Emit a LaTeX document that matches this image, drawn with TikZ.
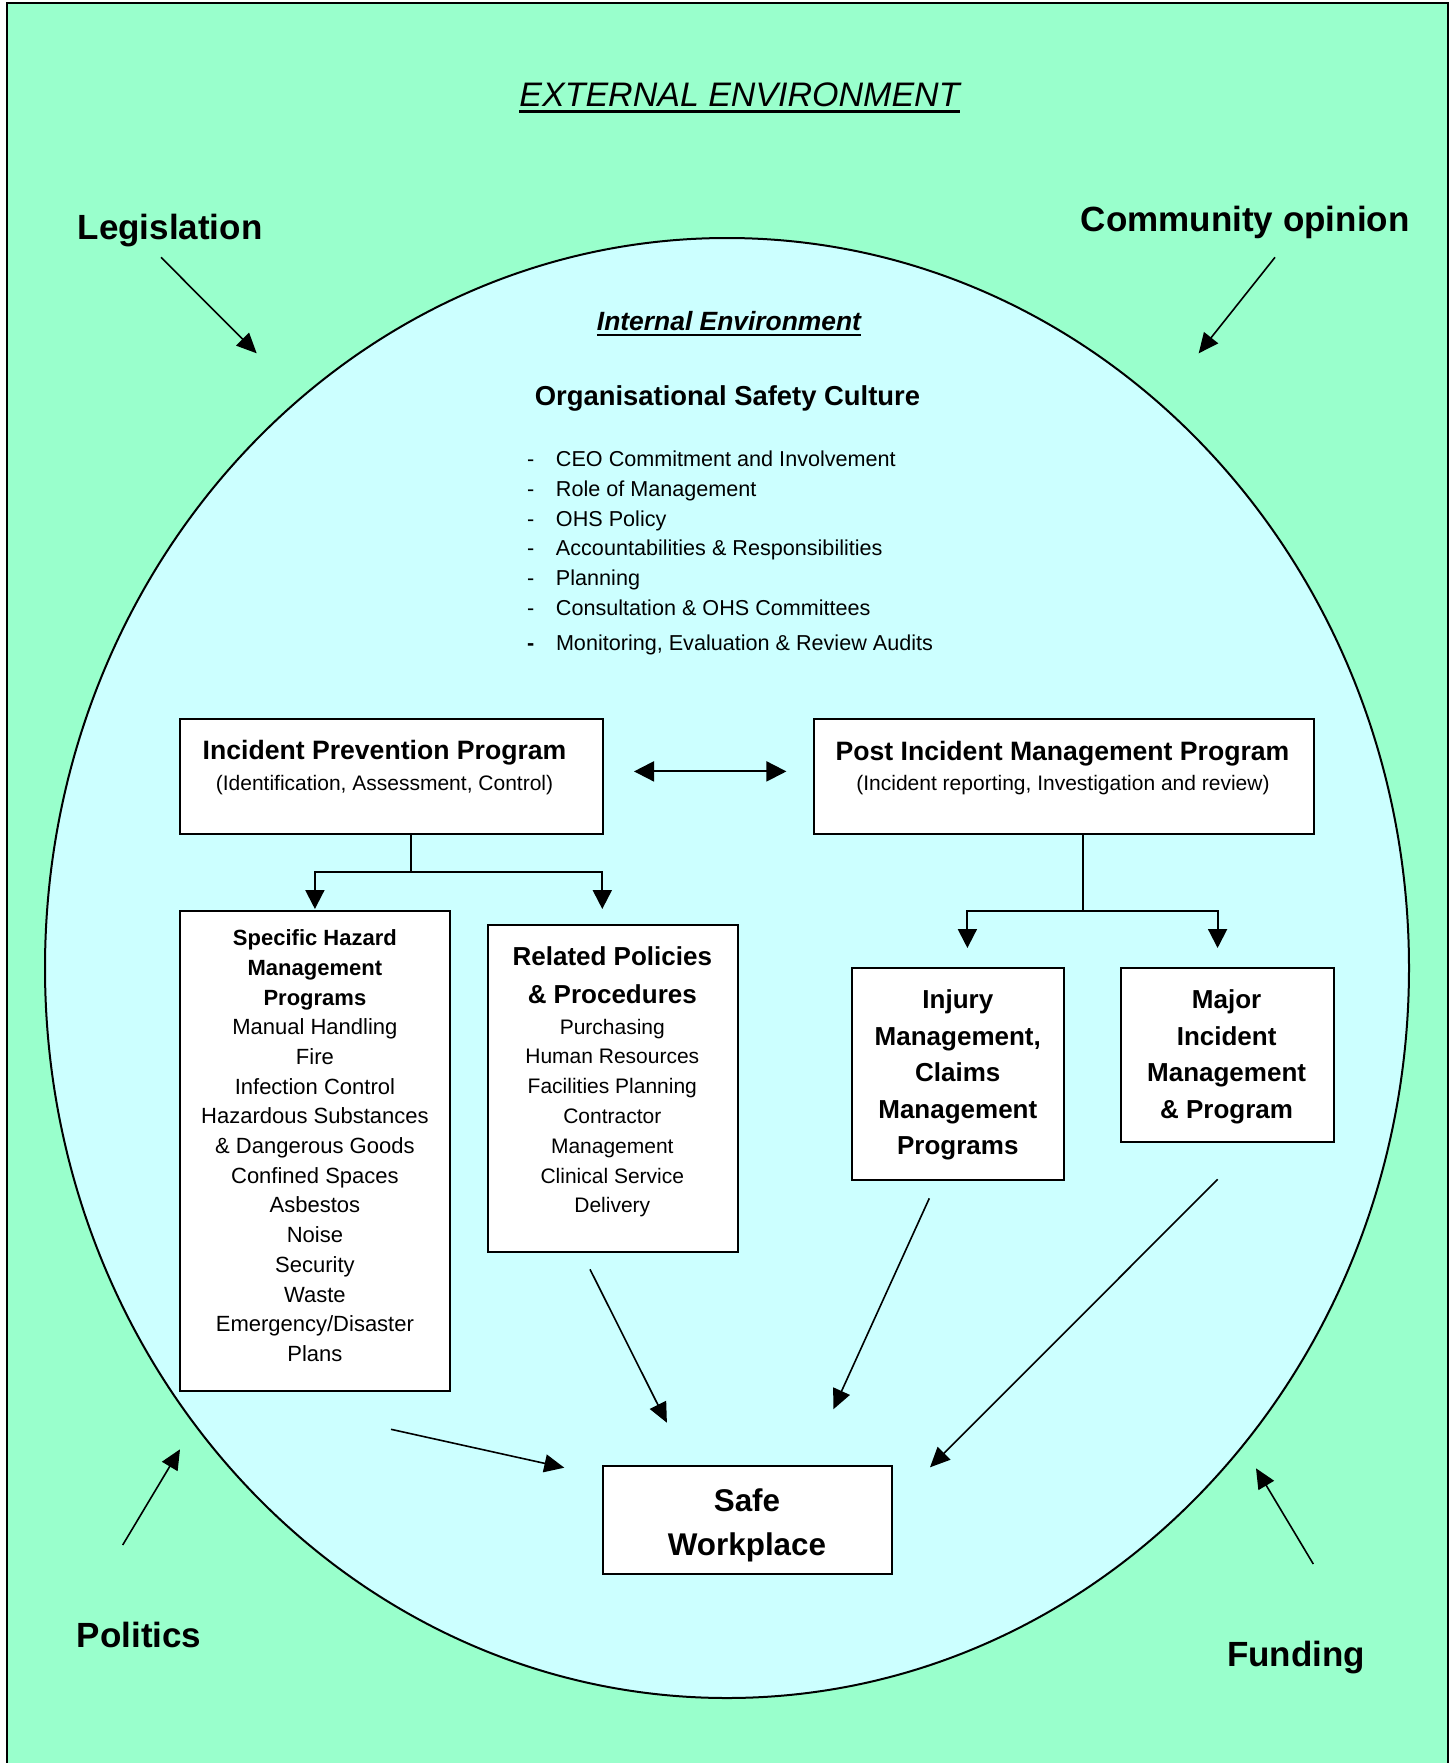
\documentclass[tikz,border=0pt]{standalone}
\usepackage{fontspec}
\setmainfont{Liberation Sans}
\usetikzlibrary{arrows.meta,calc}
\definecolor{extgreen}{HTML}{99FFCC}
\definecolor{intcyan}{HTML}{CCFFFF}
\newcommand{\myfs}[2]{\fontsize{#1}{#2}\selectfont}
\begin{document}
\begin{tikzpicture}[x=0.5pt,y=-0.5pt,
  plain/.style={inner sep=0pt, outer sep=0pt},
  box/.style={draw, line width=1pt, fill=white, rectangle, inner sep=0pt, outer sep=0pt, anchor=north west},
  multi/.style={plain, anchor=north, align=center},
  outlabel/.style={plain, anchor=base, font=\myfs{17.5}{21}\bfseries},
  boxtitle/.style={plain, anchor=base, font=\myfs{13.3}{16}\bfseries},
  boxsub/.style={plain, anchor=base, font=\myfs{10.5}{13}},
  arr/.style={line width=0.8pt, -{Triangle[length=10pt,width=9pt]}},
  tree/.style={line width=1pt},
  treearr/.style={line width=1pt, -{Triangle[length=9.5pt,width=9.5pt]}},
  dblarr/.style={line width=1pt, {Triangle[length=10pt,width=10pt]}-{Triangle[length=10pt,width=10pt]}}
]
\useasboundingbox (0,0) rectangle (1456,1763);
\clip (0,0) rectangle (1456,1763);
\fill[white] (0,0) rectangle (1456,1763);
% external environment
\draw[fill=extgreen, line width=1pt] (7.3,2.7) rectangle (1448.3,1800);
% internal environment
\draw[fill=intcyan, line width=1pt] (727,968) ellipse [x radius=341pt, y radius=365pt];

% titles
\node[plain, anchor=base, font=\myfs{17}{20}\itshape] (ext) at (739.5,106) {EXTERNAL ENVIRONMENT};
\draw[line width=1.3pt] ([yshift=-2.5pt]ext.south west) -- ([yshift=-2.5pt]ext.south east);
\node[plain, anchor=base, font=\myfs{13.2}{16}\bfseries\itshape] (intenv) at (729,330) {Internal Environment};
\draw[line width=1pt] ([yshift=-2.5pt]intenv.south west) -- ([yshift=-2.5pt]intenv.south east);

% outside influences
\node[outlabel] (leg) at (170,239.3) {Legislation};
\node[outlabel] (com) at (1245.2,231.7) {Community opinion};
\node[outlabel] (pol) at (139.2,1647.3) {Politics};
\node[outlabel] (fun) at (1296.2,1666.7) {Funding};
\coordinate (legA) at (161,257.3);   \coordinate (legB) at (256.7,353.3);
\coordinate (comA) at (1275,257.3);  \coordinate (comB) at (1198.7,353.3);
\coordinate (polA) at (122.7,1545);  \coordinate (polB) at (180,1449.3);
\coordinate (funA) at (1313.3,1564); \coordinate (funB) at (1256,1468.3);
\draw[arr] (legA) -- (legB);
\draw[arr] (comA) -- (comB);
\draw[arr] (polA) -- (polB);
\draw[arr] (funA) -- (funB);

% organisational safety culture
\node[plain, anchor=base, font=\myfs{13.7}{16}\bfseries] (osc) at (727.5,405) {Organisational Safety Culture};
\node[plain, anchor=north west, align=left, font=\myfs{10.8}{14.85}] (osclist) at (527,451.1)
 {\makebox[14.5pt][l]{-}CEO Commitment and Involvement\\
  \makebox[14.5pt][l]{-}Role of Management\\
  \makebox[14.5pt][l]{-}OHS Policy\\
  \makebox[14.5pt][l]{-}Accountabilities \& Responsibilities\\
  \makebox[14.5pt][l]{-}Planning\\
  \makebox[14.5pt][l]{-}Consultation \& OHS Committees\\[2.85pt]
  \makebox[14.5pt][l]{\textbf{-}}Monitoring, Evaluation \& Review Audits};

% boxes
\node[box, minimum width=211.5pt, minimum height=57.75pt] (ipp) at (180,718.5) {};
\node[box, minimum width=250pt, minimum height=57.75pt] (pim) at (813.8,718.5) {};
\node[box, minimum width=134.9pt, minimum height=240.15pt] (shm) at (180,910.7) {};
\node[box, minimum width=125.2pt, minimum height=163.4pt] (rpp) at (487.5,925) {};
\node[box, minimum width=106.05pt, minimum height=106.15pt] (inj) at (852.3,967.7) {};
\node[box, minimum width=106.3pt, minimum height=87.15pt] (maj) at (1120.9,967.7) {};
\node[box, minimum width=144.45pt, minimum height=54.3pt] (sw) at (602.6,1465.7) {};

% box texts
\node[boxtitle] (ippt) at (384.5,759.4) {Incident Prevention Program};
\node[boxsub] (ipps) at (384.5,790.6) {(Identification, Assessment, Control)};
\node[boxtitle] (pimt) at (1062.5,760) {Post Incident Management Program};
\node[boxsub] (pims) at (1063,790.3) {(Incident reporting, Investigation and review)};
\node[multi, font=\myfs{11}{14.85}] (shmt) at (314.9,929.7)
 {\textbf{Specific Hazard}\\\textbf{Management}\\\textbf{Programs}\\Manual Handling\\Fire\\Infection Control\\Hazardous Substances\\\& Dangerous Goods\\Confined Spaces\\Asbestos\\Noise\\Security\\Waste\\Emergency/Disaster\\Plans};
\node[multi, font=\myfs{13}{18.75}\bfseries] (rppt) at (612.3,946.9) {Related Policies\\\& Procedures};
\node[multi, font=\myfs{10.5}{14.9}] (rppi) at (612.3,1018.9)
 {Purchasing\\Human Resources\\Facilities Planning\\Contractor\\Management\\Clinical Service\\Delivery};
\node[multi, font=\myfs{13}{18.3}\bfseries] (injt) at (957.8,989.6) {Injury\\Management,\\Claims\\Management\\Programs};
\node[multi, font=\myfs{13}{18.3}\bfseries] (majt) at (1226.6,989.6) {Major\\Incident\\Management\\\& Program};
\node[multi, font=\myfs{15.7}{21.65}\bfseries] (swt) at (747,1489) {Safe\\Workplace};

% connectors
\draw[dblarr] ($(ipp.east)+(31,-4.85)$) -- ($(pim.west)+(-27.4,-4.85)$);
\coordinate (ippj) at (410.8,871.9);
\draw[tree] (ipp.south -| ippj) -- (ippj);
\draw[treearr] (ippj) -| ($(shm.north)+(0,-1.7)$);
\draw[treearr] (ippj) -| ($(rpp.north)+(-10.4,-16)$);
\coordinate (pimj) at (1083.3,910.7);
\draw[tree] (pim.south -| pimj) -- (pimj);
\draw[treearr] (pimj) -| ($(inj.north)+(9.05,-19.7)$);
\draw[treearr] (pimj) -| ($(maj.north)+(-9.6,-19.7)$);

\draw[arr] ($(shm.south)+(76.1,38.3)$) -- ($(sw.west)+(-38.3,-52.3)$);
\draw[arr] ($(rpp.south)+(-22.7,17.5)$) -- ($(sw.north)+(-80.15,-43)$);
\draw[arr] ($(inj.south)+(-29.05,18.3)$) -- ($(sw.north)+(86.25,-56.4)$);
\draw[arr] ($(maj.south)+(-9.5,37.3)$) -- ($(sw.north east)+(38.5,1.6)$);
\end{tikzpicture}
\end{document}
